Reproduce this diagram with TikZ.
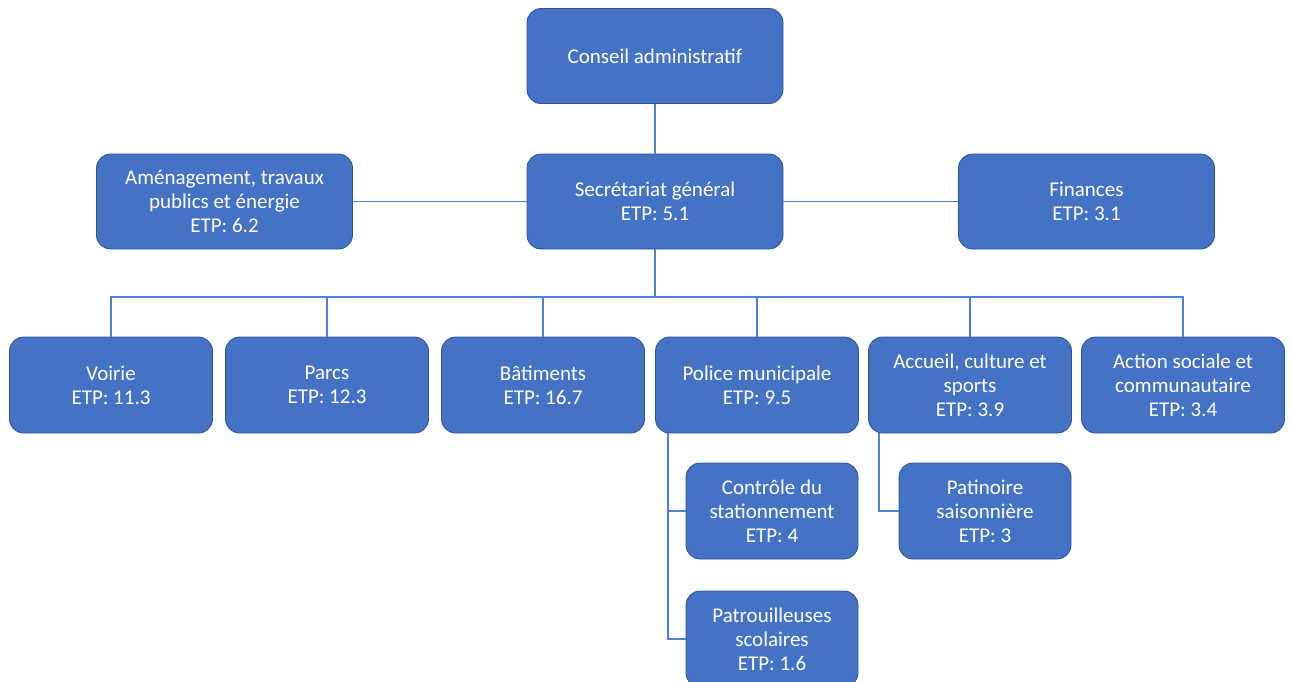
\documentclass[tikz,border=0pt]{standalone}
\usepackage{fontspec}
\setmainfont{Carlito}
\definecolor{boxblue}{HTML}{4472C4}
\definecolor{boxedge}{HTML}{2F528F}
\definecolor{linkblue}{HTML}{4F7FD0}
\begin{document}
\begin{tikzpicture}[x=1pt,y=-1pt,
  box/.style={draw=boxedge, line width=0.8pt, fill=boxblue, rounded corners=14pt,
    text=white, align=center, font=\fontsize{21}{24}\selectfont, inner sep=0pt},
  big/.style={box, minimum width=256pt, minimum height=95pt},
  unit/.style={box, minimum width=203pt, minimum height=96pt},
  sub/.style={box, minimum width=172pt, minimum height=96pt},
  link/.style={draw=linkblue, line width=1.3pt}]
\useasboundingbox (0,0) rectangle (1291,681);

\node[big] (ca) at (655,56) {Conseil administratif};
\node[big] (sg) at (655,201.5) {Secrétariat général\\ETP: 5.1};
\node[big] (am) at (224.5,201.5) {Aménagement, travaux\\publics et énergie\\ETP: 6.2};
\node[big] (fi) at (1086.5,201.5) {Finances\\ETP: 3.1};

\node[unit] (vo) at (111,385) {Voirie\\ETP: 11.3};
\node[unit] (pa) at (327,385) {Parcs\\ETP: 12.3};
\node[unit] (ba) at (543,385) {Bâtiments\\ETP: 16.7};
\node[unit] (po) at (757,385) {Police municipale\\ETP: 9.5};
\node[unit] (ac) at (970,385) {Accueil, culture et\\sports\\ETP: 3.9};
\node[unit] (as) at (1183,385) {Action sociale et\\communautaire\\ETP: 3.4};

\node[sub] (cs) at (772,511) {Contrôle du\\stationnement\\ETP: 4};
\node[sub] (ps) at (772,639) {Patrouilleuses\\scolaires\\ETP: 1.6};
\node[sub] (pt) at (985,511) {Patinoire\\saisonnière\\ETP: 3};

\coordinate (bus) at (655,297);

\draw[link] (ca) -- (sg);
\draw[link] (am) -- (sg);
\draw[link] (sg) -- (fi);
\draw[link] (sg.south) -- (bus);
\foreach \c in {vo,pa,ba,po,ac,as}
  \draw[link] (bus) -| (\c.north);
\draw[link] ([xshift=-89pt]po.south) |- (cs.west);
\draw[link] ([xshift=-89pt]po.south) |- (ps.west);
\draw[link] ([xshift=-91pt]ac.south) |- (pt.west);
\end{tikzpicture}
\end{document}
